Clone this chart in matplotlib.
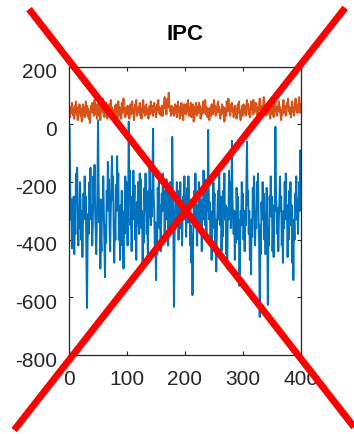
import matplotlib
matplotlib.use("Agg")
import matplotlib.pyplot as plt
from matplotlib.lines import Line2D
from matplotlib.transforms import ScaledTranslation
import numpy as np

plt.rcParams['font.family'] = ['Liberation Sans', 'DejaVu Sans']
plt.rcParams['axes.unicode_minus'] = False

# IPC traces, one sample per step
blue_vals = [
    -10, -220, -330, -260, -430, -300, -390, -250, -450, -320, -380, -170, -240, -150, -290, -420, -310, -360, -200, -280,
    -400, -300, -460, -350, -240, -330, -180, -300, -250, -470, -637, -420, -310, -380, -200, -260, -150, -330, -280, -420,
    -350, -180, -260, -140, -300, -380, -450, -330, -220, 15, -200, -340, -260, -500, -390, -440, -260, -330, -180, -290,
    -420, -530, -350, -410, -230, -300, -130, -250, -190, -370, -440, -300, -220, -110, -260, -180, -360, -480, -330, -400,
    -210, -300, -110, -240, -170, -400, -320, -470, -280, -350, -230, -420, -350, -500, -300, -380, -180, -260, -200, -340,
    -420, -300, 10, -240, -160, -350, -290, -440, -250, -330, -160, -280, -210, -400, -330, -470, -270, -350, -200, -300,
    -380, -170, -280, -190, -360, -300, -500, -330, -410, -220, -300, -170, -270, -380, -300, -460, -230, -320, -140, -260,
    -350, -230, -320, -180, -15, -250, -300, -420, -340, -540, -380, -450, -220, -310, -190, -360, -280, -440, -330, -240,
    -300, -170, -280, -230, -400, -250, -330, -190, -290, -220, -420, -310, -380, -200, -300, -250, -350, -43, -230, -360,
    -633, -400, -300, -240, -330, -200, -350, -280, -400, -230, -300, -200, -360, -290, -420, -310, -250, -330, -180, -300,
    -250, -390, -300, -220, -340, -180, -300, -260, -420, -350, -480, -380, -592, -400, -300, -230, -330, -170, -280, -350,
    -420, -280, -340, -200, -290, -250, -380, -300, -440, -260, -330, -160, -250, -190, -350, -300, -400, -220, -300, -19,
    -230, -330, -270, -420, -350, -470, -300, -360, -200, -290, -240, -410, -330, -510, -380, -300, -230, -330, -140, -280,
    -350, -250, -440, -330, -390, -230, -300, -170, -330, -280, -450, -380, -500, -290, -330, -160, -250, -200, -360, -300,
    -57, -260, -330, -380, -300, -470, -350, -410, -220, -300, -250, -400, -330, -560, -420, -300, -350, -200, -290, -240,
    -400, -300, -440, -310, -350, -200, -60, -280, -230, -380, -300, -470, -360, -520, -330, -390, -220, -300, -180, -350,
    -420, -300, -360, -200, -280, -170, -330, -420, -668, -350, -450, -270, -330, -200, -290, -240, -400, -310, -450, -300,
    -220, -380, -626, -360, -420, -250, -300, -180, -320, -250, -440, -350, -460, -280, -300, -8, -230, -300, -380, -290,
    -440, -330, -260, -180, -300, -250, -420, -330, -480, -300, -360, -200, -270, -170, -330, -280, -460, -350, -400, -230,
    -300, -200, -350, -280, -480, -370, -540, -330, -400, -240, -300, -180, -330, -260, -380, -280, -200, -300, -90, -260,
]

orange_vals = [
    45, 25, 60, 40, 75, 50, 30, 55, 20, 65, 45, 80, 35, 55, 15, 60, 40, 70, 50, 30,
    55, 10, 40, 70, 35, 60, 25, 50, 80, 45, 65, 30, 55, 20, 45, 5, 35, 65, 50, 75,
    40, 60, 30, 85, 55, 35, 70, 20, 50, 40, 75, 30, 60, 15, 45, 70, 50, 90, 40, 55,
    25, 60, 35, 75, 45, 20, 55, 40, 70, 30, 50, 85, 40, 60, 25, 50, 35, 15, 65, 45,
    70, 35, 55, 25, 80, 45, 60, 30, 50, 20, 75, 40, 65, 90, 45, 55, 25, 40, 60, 35,
    65, 40, 55, 20, 45, 70, 35, 60, 80, 40, 55, 15, 45, 70, 50, 85, 30, 55, 40, 60,
    45, 75, 30, 55, 20, 50, 65, 85, 40, 60, 30, 50, 70, 35, 55, 40, 20, 50, 65, 35,
    80, 55, 40, 65, 30, 55, 75, 45, 60, 25, 45, 70, 50, 85, 40, 60, 35, 50, 30, 65,
    50, 30, 60, 80, 95, 55, 70, 35, 75, 90, 60, 110, 70, 45, 55, 30, 65, 40, 60, 35,
    30, 55, 70, 40, 65, 25, 50, 80, 45, 60, 20, 55, 40, 75, 30, 55, 15, 50, 70, 40,
    55, 35, 70, 45, 85, 50, 30, 60, 40, 75, 25, 55, 45, 70, 10, 45, 60, 35, 75, 50,
    30, 60, 40, 75, 45, 65, 20, 55, 35, 50, 80, 40, 70, 55, 85, 35, 60, 45, 25, 55,
    40, 15, 45, 60, 30, 70, 50, 35, 60, 85, 45, 65, 30, 55, 40, 70, 80, 45, 60, 30,
    20, 50, 35, 70, 55, 40, 60, 10, 40, 55, 30, 80, 60, 45, 90, 55, 70, 30, 50, 65,
    75, 45, 55, 25, 50, 65, 35, 55, 20, 45, 70, 40, 80, 50, 35, 15, 50, 40, 65, 30,
    70, 50, 40, 65, 30, 60, 85, 55, 70, 35, 45, 25, 60, 80, 50, 70, 35, 85, 40, 55,
    45, 75, 50, 35, 60, 25, 55, 70, 90, 50, 65, 35, 55, 40, 75, 95, 60, 45, 65, 30,
    55, 35, 70, 50, 75, 40, 20, 55, 45, 65, 35, 60, 25, 50, 70, 85, 45, 60, 30, 55,
    65, 80, 45, 60, 30, 15, 50, 35, 70, 85, 55, 40, 65, 30, 50, 75, 60, 90, 45, 60,
    35, 55, 25, 65, 80, 45, 60, 30, 55, 75, 90, 50, 65, 40, 70, 45, 95, 60, 40, 70,
]

x_ticks = [0, 100, 200, 300, 400]
y_ticks = [-800, -600, -400, -200, 0, 200]

steps = np.arange(1, len(blue_vals) + 1)

fig = plt.figure(figsize=(3.54, 4.34), dpi=100)
ax = fig.add_axes([0.195, 0.182, 0.655, 0.664])

ax.plot(steps, blue_vals, color='#0072BD', lw=1.4)
ax.plot(steps, orange_vals, color='#D95319', lw=1.4)

ax.set_xlim(0, 400)
ax.set_ylim(-800, 200)
ax.set_xticks(x_ticks)
ax.set_yticks(y_ticks)
ax.tick_params(direction='in', top=True, right=True, length=3, width=0.8,
               labelsize=15, colors='#262626')
ax.tick_params(axis='x', pad=11)
ax.tick_params(axis='y', pad=8.5)
for s in ax.spines.values():
    s.set_color('#262626')
    s.set_linewidth(0.9)
ax.set_title('IPC', fontsize=16, fontweight='bold', pad=19)

# y labels sit a little below their ticks
shift = ScaledTranslation(0, -4 / 100, fig.dpi_scale_trans)
for lab in ax.get_yticklabels():
    lab.set_transform(lab.get_transform() + shift)

# red cross over the whole figure
fig.add_artist(Line2D([0.082, 1.0], [0.979, 0.016], transform=fig.transFigure,
                      color='#FF0000', lw=5, solid_capstyle='butt'))
fig.add_artist(Line2D([0.975, 0.040], [0.982, 0.009], transform=fig.transFigure,
                      color='#FF0000', lw=5, solid_capstyle='butt'))

fig.savefig('out.png', dpi=100)
